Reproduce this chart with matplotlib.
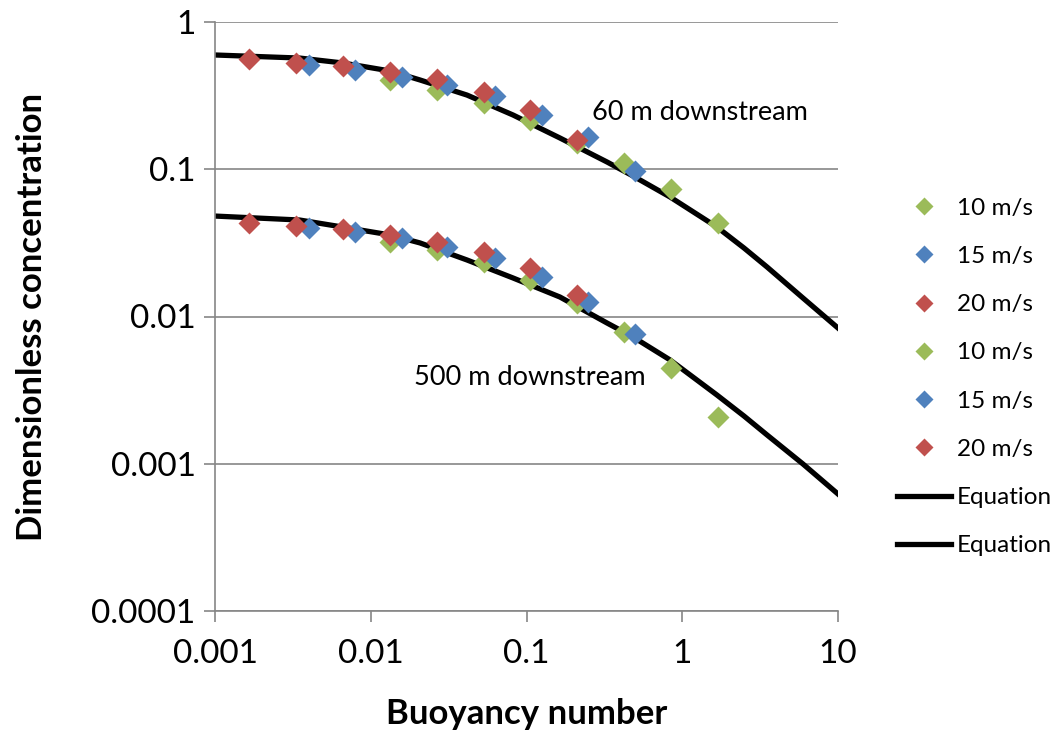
#!/usr/bin/env python3
# Concentración adimensional vs número de flotabilidad (log-log)

import matplotlib
matplotlib.use('Agg')
import matplotlib.pyplot as plt

# --- datos ---
# 60 m aguas abajo
b10_60 = [0.0133, 0.0266, 0.053, 0.106, 0.21, 0.42, 0.85, 1.7]
c10_60 = [0.404, 0.345, 0.282, 0.216, 0.151, 0.110, 0.0734, 0.0431]
b15_60 = [0.004, 0.0079, 0.0159, 0.031, 0.063, 0.126, 0.25, 0.50]
c15_60 = [0.51, 0.472, 0.423, 0.373, 0.314, 0.233, 0.166, 0.097]
b20_60 = [0.00166, 0.0033, 0.0066, 0.0133, 0.0266, 0.053, 0.106, 0.21]
c20_60 = [0.56, 0.527, 0.50, 0.457, 0.41, 0.335, 0.252, 0.158]

# 500 m aguas abajo
b10_500 = [0.0133, 0.0266, 0.053, 0.106, 0.21, 0.42, 0.85, 1.7]
c10_500 = [0.032, 0.0283, 0.0234, 0.0177, 0.0123, 0.00785, 0.00447, 0.00208]
b15_500 = [0.004, 0.0079, 0.0159, 0.031, 0.063, 0.126, 0.25, 0.50]
c15_500 = [0.0399, 0.0375, 0.0341, 0.0297, 0.025, 0.0185, 0.0125, 0.0076]
b20_500 = [0.00166, 0.0033, 0.0066, 0.0133, 0.0266, 0.053, 0.106, 0.21]
c20_500 = [0.0431, 0.0412, 0.0393, 0.0358, 0.032, 0.0274, 0.0214, 0.014]

# curvas de la ecuación (puntos leídos sobre la línea)
b_ec = [0.001, 0.0035, 0.0066, 0.0133, 0.0207, 0.0415, 0.082, 0.164,
        0.329, 0.483, 0.835, 1.67, 2.49, 3.5, 5.96, 10]
c_ec_60 = [0.597, 0.569, 0.527, 0.465, 0.404, 0.319, 0.2335, 0.163,
           0.112, 0.090, 0.0648, 0.0405, 0.0292, 0.0217, 0.01335, 0.00835]
c_ec_500 = [0.0481, 0.0452, 0.0405, 0.0358, 0.0316, 0.0242, 0.01826, 0.01356,
            0.00903, 0.00726, 0.00507, 0.00293, 0.00211, 0.00157, 0.000996,
            0.000623]

verde = '#9BBB59'
azul = '#4F81BD'
rojo = '#C0504D'
gris = '#868686'

plt.rcParams['font.family'] = ['Lato', 'DejaVu Sans']

fig = plt.figure(figsize=(10.53, 7.31), dpi=100)
ax = fig.add_axes([215/1053, 1 - 611/731, (838-215)/1053, (611-22)/731])

ms = 11.5
ax.plot(b10_60, c10_60, 'D', color=verde, ms=ms, mec='none', label='10 m/s', zorder=3)
ax.plot(b15_60, c15_60, 'D', color=azul, ms=ms, mec='none', label='15 m/s', zorder=3)
ax.plot(b20_60, c20_60, 'D', color=rojo, ms=ms, mec='none', label='20 m/s', zorder=3)
ax.plot(b10_500, c10_500, 'D', color=verde, ms=ms, mec='none', label='10 m/s', zorder=3)
ax.plot(b15_500, c15_500, 'D', color=azul, ms=ms, mec='none', label='15 m/s', zorder=3)
ax.plot(b20_500, c20_500, 'D', color=rojo, ms=ms, mec='none', label='20 m/s', zorder=3)
ax.plot(b_ec, c_ec_60, '-', color='black', lw=3.8, label='Equation', zorder=2)
ax.plot(b_ec, c_ec_500, '-', color='black', lw=3.8, label='Equation', zorder=2)

ax.set_xscale('log')
ax.set_yscale('log')
ax.set_xlim(0.001, 10)
ax.set_ylim(0.0001, 1)
ax.set_xticks([0.001, 0.01, 0.1, 1, 10])
ax.set_xticklabels(['0.001', '0.01', '0.1', '1', '10'])
ax.set_yticks([0.0001, 0.001, 0.01, 0.1, 1])
ax.set_yticklabels(['0.0001', '0.001', '0.01', '0.1', '1'])
ax.minorticks_off()

ax.grid(axis='y', color=gris, lw=1.2)
ax.set_axisbelow(True)
for lado in ['top', 'right']:
    ax.spines[lado].set_visible(False)
for lado in ['left', 'bottom']:
    ax.spines[lado].set_color(gris)
    ax.spines[lado].set_linewidth(1.2)
ax.tick_params(axis='both', length=8, width=1.2, color=gris, labelsize=24,
               direction='out')
ax.tick_params(axis='y', pad=6)
ax.tick_params(axis='x', pad=12)

ax.set_xlabel('Buoyancy number', fontsize=25, fontweight='bold', labelpad=21)
ax.set_ylabel('Dimensionless concentration', fontsize=25, fontweight='bold',
              labelpad=31)

ax.text(0.264, 0.241, '60 m downstream', fontsize=19.5, ha='left', va='center')
ax.text(0.019, 0.00388, '500 m downstream', fontsize=19.5, ha='left', va='center')

ax.legend(loc='center left', bbox_to_anchor=(885/1053, (731 - 377)/731),
          bbox_transform=fig.transFigure, frameon=False, fontsize=17.5,
          labelspacing=1.12, handlelength=2.2, handletextpad=0.25,
          borderpad=0, markerscale=0.82)

fig.savefig('out.png', dpi=100)
